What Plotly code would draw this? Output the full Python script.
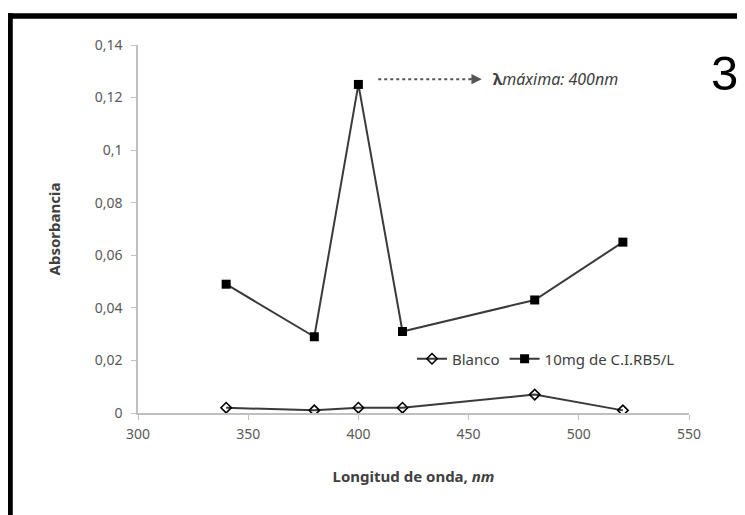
import plotly.graph_objects as go

wavelength = [340, 380, 400, 420, 480, 520]
blanco = [0.002, 0.001, 0.002, 0.002, 0.007, 0.001]
muestra = [0.049, 0.029, 0.125, 0.031, 0.043, 0.065]
x_ticks = [300, 350, 400, 450, 500, 550]
y_ticks = [0, 0.02, 0.04, 0.06, 0.08, 0.1, 0.12, 0.14]
y_tick_text = ["0", "0,02", "0,04", "0,06", "0,08", "0,1", "0,12", "0,14"]
arrow_x = [409, 452]
arrow_y = [0.127, 0.127]

FONT = "Liberation Sans Narrow, Arial Narrow, Noto Sans, sans-serif"
OFF = 8  # default page body margin
W, H = 745 - OFF, 515 - OFF
L, R, T, B = 138 - OFF, 56, 45 - OFF, 102
pw, ph = W - L - R, H - T - B

def px_x(p):
    return (p - OFF - L) / pw

def px_y(p):
    return (H - B - (p - OFF)) / ph

fig = go.Figure()
fig.add_trace(go.Scatter(
    x=wavelength, y=blanco, name="Blanco", mode="lines+markers",
    line=dict(color="#3a3a3a", width=2),
    marker=dict(symbol="diamond-open", size=8, color="#000000", line=dict(width=1.6, color="#000000")),
))
fig.add_trace(go.Scatter(
    x=wavelength, y=muestra, name="10mg de C.I.RB5/L", mode="lines+markers",
    line=dict(color="#3a3a3a", width=2),
    marker=dict(symbol="square", size=9, color="#000000"),
))
fig.add_trace(go.Scatter(
    x=arrow_x, y=arrow_y, mode="lines", showlegend=False, hoverinfo="skip",
    line=dict(color="#555555", width=2, dash="dot"),
))
fig.add_annotation(
    x=arrow_x[1] + 4, y=arrow_y[1], ax=arrow_x[1] - 2, ay=arrow_y[1],
    xref="x", yref="y", axref="x", ayref="y", text="", showarrow=True,
    arrowhead=2, arrowsize=1.3, arrowwidth=1.6, arrowcolor="#555555",
)
fig.add_annotation(
    x=px_x(491), y=px_y(79), xref="paper", yref="paper", xanchor="left", yanchor="middle",
    text="<b>λ</b><i>máxima: 400nm</i>", showarrow=False,
    font=dict(family=FONT, size=16, color="#404040"),
)
fig.add_annotation(
    x=px_x(724), y=px_y(73), xref="paper", yref="paper", xanchor="center", yanchor="middle",
    text="3", showarrow=False,
    font=dict(family="Liberation Sans, Arial, sans-serif", size=49, color="#000000"),
)
# black frame (left and top edges visible)
fig.add_shape(type="line", xref="paper", yref="paper",
              x0=px_x(10.4), x1=px_x(10.4), y0=px_y(520), y1=px_y(13.3),
              line=dict(color="#000000", width=4.8), layer="above")
fig.add_shape(type="line", xref="paper", yref="paper",
              x0=px_x(8), x1=px_x(760), y0=px_y(16), y1=px_y(16),
              line=dict(color="#000000", width=5.4), layer="above")

fig.update_layout(
    width=W, height=H,
    margin=dict(l=L, r=R, t=T, b=B),
    paper_bgcolor="white", plot_bgcolor="white",
    font=dict(family=FONT, size=12, color="#595959"),
    showlegend=True,
    legend=dict(orientation="h", x=px_x(412), y=px_y(359), xanchor="left", yanchor="middle",
                bgcolor="rgba(0,0,0,0)", font=dict(family=FONT, size=15, color="#404040"),
                itemwidth=30, tracegroupgap=0),
    xaxis=dict(range=[300, 550], tickvals=x_ticks, ticktext=[str(v) for v in x_ticks],
               showgrid=False, zeroline=False, showline=True, linecolor="#bfbfbf", linewidth=1.5,
               ticks="outside", ticklen=5, tickcolor="#bfbfbf", tickwidth=1,
               ticklabelstandoff=2,
               tickfont=dict(family=FONT, size=14, color="#595959"),
               title=dict(text="<b>Longitud de onda, <i>nm</i></b>", standoff=30,
                          font=dict(family=FONT, size=15, color="#404040"))),
    yaxis=dict(range=[0, 0.14], tickvals=y_ticks, ticktext=y_tick_text,
               showgrid=False, zeroline=False, showline=True, linecolor="#bfbfbf", linewidth=1.5,
               ticks="outside", ticklen=5, tickcolor="#bfbfbf", tickwidth=1,
               ticklabelstandoff=6,
               tickfont=dict(family=FONT, size=14, color="#595959"),
               title=dict(text="<b>Absorbancia</b>", standoff=30,
                          font=dict(family=FONT, size=15, color="#404040"))),
)
fig.write_html("out.html")
